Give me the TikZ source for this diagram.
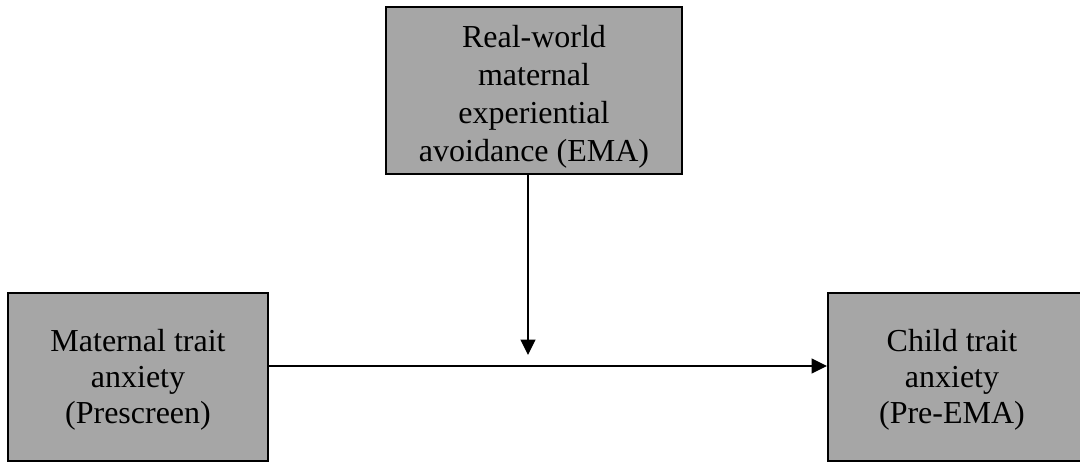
\documentclass[tikz,border=0pt]{standalone}
\usepackage{fontspec}
\setmainfont{Liberation Serif}
\usetikzlibrary{arrows.meta,calc}
\definecolor{boxgray}{HTML}{A6A6A6}
\tikzset{
  box/.style={draw=black, line width=2pt, fill=boxgray, inner sep=0pt},
  txt/.style={inner sep=0pt, align=center, font=\fontsize{32}{38}\selectfont},
  arr/.style={line width=1.3pt, -{Triangle[length=15.5pt,width=15pt]}}
}
\begin{document}
\begin{tikzpicture}[x=1pt,y=-1pt]
\useasboundingbox (0,0) rectangle (1080,461);
\node[box, minimum width=296pt, minimum height=167pt] (top) at (534,90.5) {};
\node[box, minimum width=260pt, minimum height=168pt] (left) at (138,377) {};
\node[box, minimum width=254pt, minimum height=168pt] (right) at (955,377) {};
\node[txt] (toptext) at ($(top.center)+(0,6)$) {Real-world\\maternal\\experiential\\avoidance (EMA)};
\node[txt, font=\fontsize{32}{36}\selectfont] (lefttext) at ($(left.center)+(0,3)$) {Maternal trait\\anxiety\\(Prescreen)};
\node[txt, font=\fontsize{32}{36}\selectfont] (righttext) at ($(right.center)+(-3,3)$) {Child trait\\anxiety\\(Pre-EMA)};
\coordinate (mid) at (528,355);
\coordinate (h) at (0,366);
\draw[arr] (top.south -| mid) -- (mid);
\draw[arr] (left.east |- h) -- (right.west |- h);
\end{tikzpicture}
\end{document}
